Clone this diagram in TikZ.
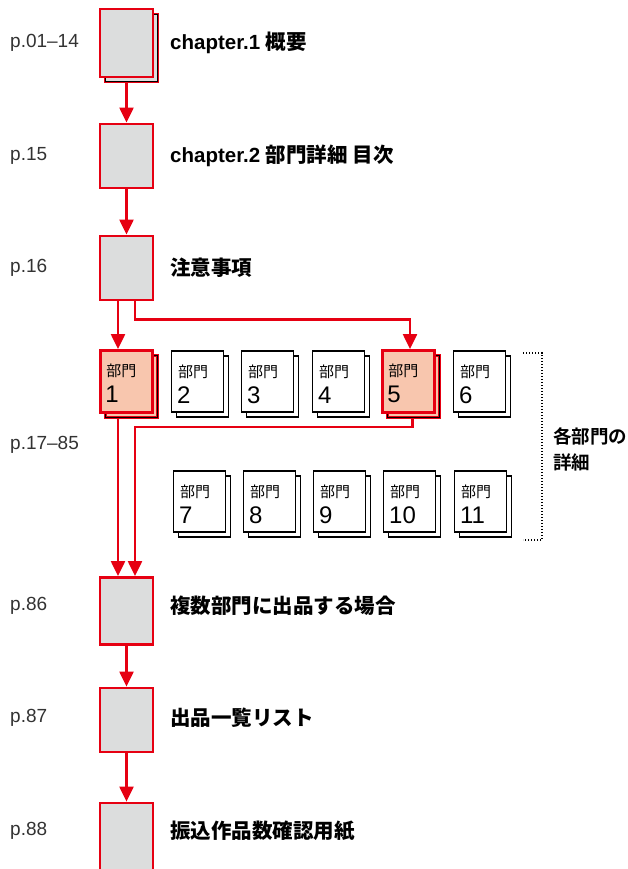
\documentclass[tikz,border=0pt]{standalone}
\usepackage{fontspec}
\setmainfont{Liberation Sans}
\newfontfamily\jp{Noto Sans CJK JP}
\newfontfamily\jpb{Noto Sans CJK JP Bold}
\usetikzlibrary{arrows.meta}
\definecolor{myred}{HTML}{E60012}
\definecolor{boxgray}{HTML}{DCDDDD}
\definecolor{salmon}{HTML}{F8C6AE}
\definecolor{pgtext}{HTML}{333333}
\tikzset{
  mainbox/.style={rectangle, fill=boxgray, draw=myred, line width=2.8pt, minimum width=53pt, minimum height=64pt, inner sep=0pt},
  deptbox/.style={rectangle, fill=white, draw=black, line width=1.1pt, minimum width=52pt, minimum height=61pt, inner sep=0pt},
  hlbox/.style={rectangle, fill=salmon, draw=myred, line width=2.8pt, minimum width=52pt, minimum height=62pt, inner sep=0pt},
  innerline/.style={draw=black, line width=0.9pt},
  arr/.style={draw=myred, line width=2.2pt, -{Triangle[length=15pt,width=14pt]}},
  title/.style={anchor=west, inner sep=0pt, font=\fontsize{20.5}{24}\selectfont\bfseries},
  pg/.style={anchor=west, inner sep=0pt, text=pgtext, font=\fontsize{19}{23}\selectfont},
  bumon/.style={anchor=base west, inner sep=0pt, font=\jp\fontsize{15}{17}\selectfont},
  num/.style={anchor=base west, inner sep=0pt, font=\fontsize{24}{28}\selectfont},
}
\newcommand\deptnode[4]{% name, x, y, number
  \node[deptbox] (#1b) at (#2+5,#3+5) {};
  \node[deptbox] (#1) at (#2,#3) {};
  \node[bumon] (#1t) at ([xshift=7pt,yshift=-27pt]#1.north west) {部門};
  \node[num] (#1n) at ([xshift=6pt,yshift=-53pt]#1.north west) {#4};
}
\newcommand\hldept[4]{%
  \node[hlbox] (#1b) at (#2+5,#3+5) {};
  \draw[innerline] ([shift={(1.8pt,-1.8pt)}]#1b.north west) rectangle ([shift={(-1.8pt,1.8pt)}]#1b.south east);
  \node[hlbox] (#1) at (#2,#3) {};
  \node[bumon] (#1t) at ([xshift=7pt,yshift=-27pt]#1.north west) {部門};
  \node[num] (#1n) at ([xshift=6pt,yshift=-53pt]#1.north west) {#4};
}
\begin{document}
\begin{tikzpicture}[x=1pt,y=-1pt]
\useasboundingbox (0,0) rectangle (628,869);
\fill[white] (0,0) rectangle (628,869);

% chapter 1 (double sheet)
\node[mainbox, minimum height=68pt] (c1b) at (131.5,48) {};
\draw[innerline] ([shift={(1.8pt,-1.8pt)}]c1b.north west) rectangle ([shift={(-1.8pt,1.8pt)}]c1b.south east);
\node[mainbox, minimum height=68pt] (c1) at (126.5,43) {};
\node[mainbox] (c2) at (126.5,156) {};
\node[mainbox] (c3) at (126.5,268) {};
\node[mainbox, minimum height=67pt] (c4) at (126.5,611) {};
\node[mainbox] (c5) at (126.5,720) {};
\node[mainbox, minimum height=70pt] (c6) at (126.5,838) {};

% page labels
\node[pg] (p1) at (10,43) {p.01–14};
\node[pg] (p2) at (10,156) {p.15};
\node[pg] (p3) at (10,268) {p.16};
\node[pg] (p4) at (10,445) {p.17–85};
\node[pg] (p5) at (10,606) {p.86};
\node[pg] (p6) at (10,718) {p.87};
\node[pg] (p7) at (10,831) {p.88};

% titles
\node[title] (t1) at (170,43) {chapter.1 {\jpb 概要}};
\node[title] (t2) at (170,156) {chapter.2 {\jpb 部門詳細 目次}};
\node[title] (t3) at (170,268) {\jpb 注意事項};
\node[title] (t4) at (170,606) {\jpb 複数部門に出品する場合};
\node[title] (t5) at (170,718) {\jpb 出品一覧リスト};
\node[title] (t6) at (170,831) {\jpb 振込作品数確認用紙};

% departments row 1
\hldept{d1}{126.5}{381.5}{1}
\deptnode{d2}{197.5}{381.5}{2}
\deptnode{d3}{267.5}{381.5}{3}
\deptnode{d4}{338.5}{381.5}{4}
\hldept{d5}{408.5}{381.5}{5}
\deptnode{d6}{479.5}{381.5}{6}
% row 2
\deptnode{d7}{199.5}{501.5}{7}
\deptnode{d8}{269.5}{501.5}{8}
\deptnode{d9}{339.5}{501.5}{9}
\deptnode{d10}{409.5}{501.5}{10}
\deptnode{d11}{480.5}{501.5}{11}

% bracket and label
\draw[line width=1.2pt, dash pattern=on 1.2pt off 1.8pt] (523,353) -- (542,353) -- (542,540) -- (523,540);
\node[anchor=west, align=left, inner sep=0pt, font=\jpb\fontsize{18.5}{26}\selectfont] (lbl) at (553,449) {各部門の\\詳細};

% connectors
\draw[arr] (c1b.south -| c1.south) -- (c2.north);
\draw[arr] (c2.south) -- (c3.north);
\draw[arr] ([xshift=-8.5pt]c3.south) -- ([xshift=-8.5pt]d1.north);
\draw[arr] ([xshift=8.5pt]c3.south) -- ++(0,18) -| ([xshift=1.5pt]d5.north);
\path ([xshift=-8.5pt]c4.north) coordinate (c4l) ([xshift=8.5pt]c4.north) coordinate (c4r);
\draw[arr] (c4l |- d1b.south) -- (c4l);
\draw[arr] ([xshift=-1pt]d5b.south) -- ++(0,8) -| (c4r);
\draw[arr] (c4.south) -- (c5.north);
\draw[arr] (c5.south) -- (c6.north);
\end{tikzpicture}
\end{document}
